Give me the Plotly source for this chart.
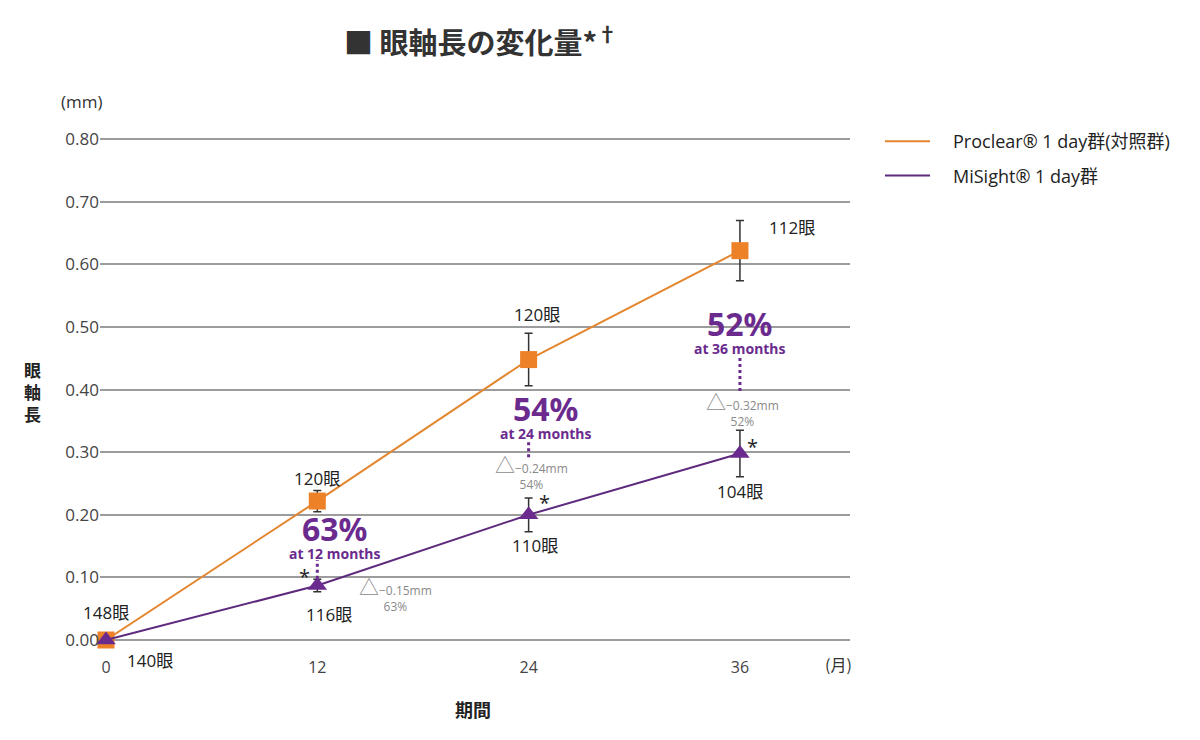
import plotly.graph_objects as go

# ---- data ----
months = [0, 12, 24, 36]
x_tick_labels = ["0", "12", "24", "36"]
proclear_vals = [0.0, 0.222, 0.448, 0.622]
proclear_err = [0.0, 0.017, 0.042, 0.048]
misight_vals = [0.0, 0.087, 0.200, 0.298]
misight_err = [0.0, 0.010, 0.027, 0.037]
proclear_eyes = ["148眼", "120眼", "120眼", "112眼"]
misight_eyes = ["140眼", "116眼", "110眼", "104眼"]
reduction_pct = ["63%", "54%", "52%"]
reduction_lbl = ["at 12 months", "at 24 months", "at 36 months"]
delta_mm = ["−0.15mm", "−0.24mm", "−0.32mm"]
y_ticks = [0.0, 0.1, 0.2, 0.3, 0.4, 0.5, 0.6, 0.7, 0.8]

ORANGE = "#EC8127"
ORANGE_LINE = "#E4862F"
PURPLE = "#6B2B8E"
PURPLE_LINE = "#5E2A7E"
GRID = "#9C9C9C"
TXT = "#222222"
FONT = "Open Sans, Noto Sans CJK JP, sans-serif"
CJK = "Noto Sans CJK JP, sans-serif"
BOLDF = "Noto Sans, Open Sans, sans-serif"

fig_w, fig_h = 1200, 740
L, R, T, B = 100, 350, 138, 100
pw, ph = fig_w - L - R, fig_h - T - B
def px(xp):
    return (xp - L) / pw
def py(yp):
    return 1 - (yp - T) / ph

fig = go.Figure()

fig.add_trace(go.Scatter(
    x=months, y=proclear_vals, mode="lines+markers",
    line=dict(color=ORANGE_LINE, width=2),
    marker=dict(symbol="square", size=17, color=ORANGE),
    error_y=dict(type="data", array=proclear_err, color="#333333", thickness=1.5, width=4),
    cliponaxis=False, showlegend=False))

fig.add_trace(go.Scatter(
    x=months, y=misight_vals, mode="lines+markers",
    line=dict(color=PURPLE_LINE, width=2),
    marker=dict(symbol="triangle-up", size=17, color=PURPLE),
    error_y=dict(type="data", array=misight_err, color="#333333", thickness=1.5, width=4),
    cliponaxis=False, showlegend=False))

# legend-only traces
SP = "\u2002\u2002"
fig.add_trace(go.Scatter(x=[None], y=[None], mode="lines", name=SP + "Proclear® 1 day群(対照群)",
                         line=dict(color=ORANGE_LINE, width=2), legendgroup="a"))
fig.add_trace(go.Scatter(x=[None], y=[None], mode="lines", name=SP + "MiSight® 1 day群",
                         line=dict(color=PURPLE_LINE, width=2), legendgroup="b"))

ann = []
def A(x, y, text, size=17, color=TXT, xref="x", yref="y", xanchor="center", yanchor="middle",
      family=FONT, bg=None, **kw):
    d = dict(x=x, y=y, text=text, xref=xref, yref=yref, showarrow=False,
             xanchor=xanchor, yanchor=yanchor, font=dict(size=size, color=color, family=family))
    if bg:
        d["bgcolor"] = bg
    d.update(kw)
    ann.append(d)

# eye counts (pixel offsets from their data points)
A(months[0], proclear_vals[0], proclear_eyes[0], xshift=0, yshift=28)
A(months[1], proclear_vals[1], proclear_eyes[1], xshift=0, yshift=23)
A(months[2], proclear_vals[2], proclear_eyes[2], xshift=8, yshift=45)
A(months[3], proclear_vals[3], proclear_eyes[3], xshift=52, yshift=23)
A(months[0], misight_vals[0], misight_eyes[0], xshift=44, yshift=-20)
A(months[1], misight_vals[1], misight_eyes[1], xshift=12, yshift=-29)
A(months[2], misight_vals[2], misight_eyes[2], xshift=6, yshift=-31)
A(months[3], misight_vals[3], misight_eyes[3], xshift=0, yshift=-38)

# significance stars
A(months[1], misight_vals[1], "*", size=20, xshift=-13, yshift=9)
A(months[2], misight_vals[2], "*", size=20, xshift=16, yshift=12)
A(months[3], misight_vals[3], "*", size=20, xshift=13, yshift=7)

# reduction labels: big % with caption beneath, one text block each
pct_pos = [(months[1], 0.167, 17), (months[2], 0.360, 17), (months[3], 0.496, 0)]
for i, (mx, yc, dx) in enumerate(pct_pos):
    A(mx, yc, '<b><span style="font-size:32px">%s</span><br>%s</b>' % (reduction_pct[i], reduction_lbl[i]),
      size=14, color=PURPLE, xshift=dx, family=BOLDF, align="center")

# dotted connectors
dots = [(months[1], 0.098, 0.128), (months[2], 0.292, 0.318), (months[3], 0.398, 0.452)]
shapes = []
for mx, y0, y1 in dots:
    shapes.append(dict(type="line", x0=mx, x1=mx, y0=y0, y1=y1, xref="x", yref="y",
                       line=dict(color=PURPLE, width=3, dash="dot")))
# white gap behind 52% text on the 0.50 gridline
shapes.append(dict(type="rect", x0=months[3], x1=months[3], y0=0.492, y1=0.508, xref="x", yref="y",
                   xsizemode="pixel", xanchor=months[3], layer="below",
                   line=dict(width=0), fillcolor="white"))
shapes[-1].update(x0=-38, x1=38)

# delta texts
delta_pos = [(months[1], 0.072, 78), (months[2], 0.267, 3), (months[3], 0.369, 3)]
for i, (mx, yv, dx) in enumerate(delta_pos):
    A(mx, yv, '<span style="font-size:20px">△</span>%s<br>%s' % (delta_mm[i], reduction_pct[i]),
      size=12, color="#8A8A8A", xshift=dx, align="center")

# axis texts
A(px(82), py(101), "(mm)", xref="paper", yref="paper", size=17, color="#333333")
A(px(838), py(664), "(月)", xref="paper", yref="paper", size=16, color="#333333", family=CJK)
A(px(473), py(709), "<b>期間</b>", xref="paper", yref="paper", size=18, family=CJK)
A(px(32), py(391), "<b>眼<br>軸<br>長</b>", xref="paper", yref="paper", size=17, family=CJK)
A(px(481), py(40), "<b>■ 眼軸長の変化量*<sup>†</sup></b>", xref="paper", yref="paper", size=29,
  color="#333333", family=CJK)

fig.update_layout(
    width=fig_w, height=fig_h,
    margin=dict(l=L, r=R, t=T, b=B),
    plot_bgcolor="white", paper_bgcolor="white",
    font=dict(family=FONT, color=TXT),
    xaxis=dict(range=[-0.34, 42.25], tickmode="array", tickvals=months, ticktext=x_tick_labels,
               showgrid=False, zeroline=False, showline=False,
               ticks="outside", ticklen=13, tickcolor="rgba(0,0,0,0)",
               tickfont=dict(size=16, color="#444444")),
    yaxis=dict(range=[0, 0.802], tickmode="array", tickvals=y_ticks,
               ticktext=["%.2f" % v for v in y_ticks],
               showgrid=True, gridcolor=GRID, gridwidth=1.6,
               zeroline=True, zerolinecolor=GRID, zerolinewidth=1.6, showline=False,
               ticks="", tickfont=dict(size=17, color="#444444")),
    legend=dict(x=px(880), y=py(123), xanchor="left", yanchor="top",
                font=dict(size=18, color=TXT, family=FONT),
                tracegroupgap=8, itemwidth=45, bgcolor="rgba(0,0,0,0)"),
    annotations=ann, shapes=shapes,
)

fig.write_html("out.html")
